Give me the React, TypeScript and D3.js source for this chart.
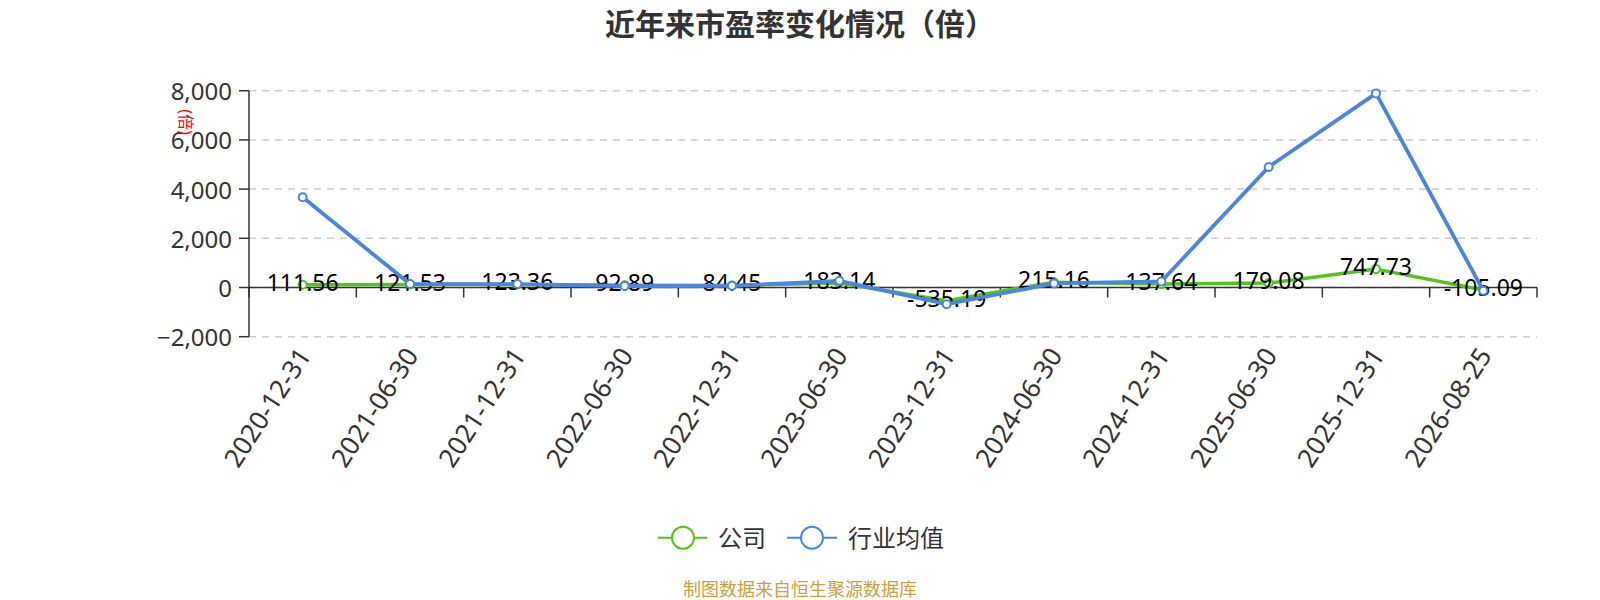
import React from "react";
import * as d3 from "d3";

const categories = [
  "2020-12-31", "2021-06-30", "2021-12-31", "2022-06-30", "2022-12-31", "2023-06-30",
  "2023-12-31", "2024-06-30", "2024-12-31", "2025-06-30", "2025-12-31", "2026-08-25",
];
const companyPE = [111.56, 121.53, 123.36, 92.89, 84.45, 183.14, -535.19, 215.16, 137.64, 179.08, 747.73, -105.09];
const industryPE = [3670, 140, 140, 60, 70, 270, -680, 165, 245, 4900, 7890, -135];
const yTicks = [-2000, 0, 2000, 4000, 6000, 8000];

const W = 1600;
const H = 600;
const left = 249;
const right = 1537;
const top = 90.7;
const bottom = 336.7;
const GREEN = "#52c41a";
const BLUE = "#4a85e0";
const FONT = '"Noto Sans", "Noto Sans CJK SC", sans-serif';

export default function App() {
  const x = d3.scaleBand<string>().domain(categories).range([left, right]);
  const cx = (c: string) => (x(c) as number) + x.bandwidth() / 2;
  const y = d3.scaleLinear().domain([-2000, 8000]).range([bottom, top]);
  const fmt = d3.format(",");
  const line = d3
    .line<number>()
    .x((_, i) => cx(categories[i]))
    .y((d) => y(d));
  const boundaries = d3.range(categories.length + 1).map((i) => left + i * x.step());

  return (
    <svg
      width={W}
      height={H}
      style={{ position: "absolute", left: 0, top: 0, background: "#fff" }}
      fontFamily={FONT}
    >
      <text x={800} y={23} textAnchor="middle" dominantBaseline="central" fontSize={30} fontWeight="bold" fill="#333">
        近年来市盈率变化情况（倍）
      </text>

      {/* grid */}
      {yTicks.map((t) => (
        <line key={"g" + t} x1={left} x2={right} y1={y(t)} y2={y(t)} stroke="#ccc" strokeWidth={1.5} strokeDasharray="7,6" />
      ))}

      {/* y axis */}
      <line x1={left} x2={left} y1={top} y2={bottom} stroke="#333" strokeWidth={1.5} />
      {yTicks.map((t) => (
        <g key={"t" + t}>
          <line x1={left - 10} x2={left} y1={y(t)} y2={y(t)} stroke="#333" strokeWidth={1.5} />
          <text x={left - 17} y={y(t)} textAnchor="end" dominantBaseline="central" fontSize={24} fill="#333">
            {fmt(t)}
          </text>
        </g>
      ))}
      <text
        transform={`translate(186,122) rotate(90)`}
        textAnchor="middle"
        dominantBaseline="central"
        fontSize={16}
        fill="#ff0000"
      >
        (倍)
      </text>

      {/* x axis at zero */}
      <line x1={left} x2={right} y1={y(0)} y2={y(0)} stroke="#333" strokeWidth={1.5} />
      {boundaries.map((b, i) => (
        <line key={"xt" + i} x1={b} x2={b} y1={y(0)} y2={y(0) + 10} stroke="#333" strokeWidth={1.5} />
      ))}
      {categories.map((c) => (
        <text
          key={"xl" + c}
          transform={`translate(${cx(c) + 1},350) rotate(-57)`}
          textAnchor="end"
          dominantBaseline="central"
          fontSize={26}
          fill="#333"
        >
          {c}
        </text>
      ))}

      {/* company series */}
      <path d={line(companyPE) || ""} fill="none" stroke={GREEN} strokeWidth={3.5} strokeLinejoin="round" />
      {companyPE.map((v, i) => (
        <circle key={"cm" + i} cx={cx(categories[i])} cy={y(v)} r={4} fill="#fff" stroke={GREEN} strokeWidth={2} />
      ))}
      {companyPE.map((v, i) => (
        <text
          key={"cl" + i}
          x={cx(categories[i])}
          y={y(v) - 3}
          textAnchor="middle"
          dominantBaseline="central"
          fontSize={23}
          fill="#000"
        >
          {v.toFixed(2)}
        </text>
      ))}

      {/* industry series */}
      <path d={line(industryPE) || ""} fill="none" stroke={BLUE} strokeWidth={3.8} strokeLinejoin="round" />
      {industryPE.map((v, i) => (
        <circle key={"im" + i} cx={cx(categories[i])} cy={y(v)} r={4} fill="#fff" stroke={BLUE} strokeWidth={2} />
      ))}

      {/* legend */}
      <g>
        <line x1={658} x2={707} y1={537.7} y2={537.7} stroke={GREEN} strokeWidth={2} />
        <circle cx={683} cy={537.7} r={11} fill="#fff" stroke={GREEN} strokeWidth={2} />
        <text x={718} y={537.7} dominantBaseline="central" fontSize={24} fill="#333">公司</text>
        <line x1={787} x2={837} y1={537.7} y2={537.7} stroke={BLUE} strokeWidth={2} />
        <circle cx={812} cy={537.7} r={11} fill="#fff" stroke={BLUE} strokeWidth={2} />
        <text x={848} y={537.7} dominantBaseline="central" fontSize={24} fill="#333">行业均值</text>
      </g>

      <text x={800} y={589} textAnchor="middle" dominantBaseline="central" fontSize={18} fill="#c9a23e">
        制图数据来自恒生聚源数据库
      </text>
    </svg>
  );
}
